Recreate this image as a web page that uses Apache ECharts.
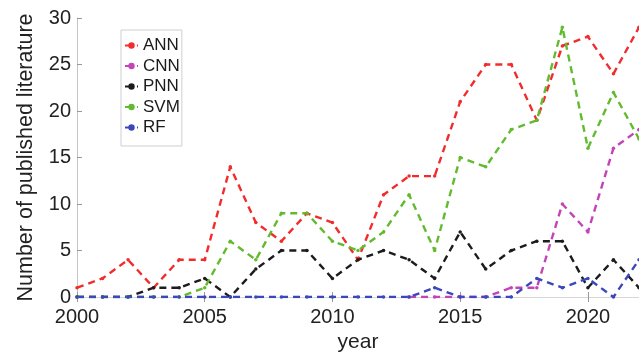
<!DOCTYPE html>
<html>
<head>
<meta charset="utf-8">
<script src="https://cdn.jsdelivr.net/npm/echarts@6/dist/echarts.min.js"></script>
<style>
  html, body { margin: 0; padding: 0; background: #ffffff; }
  #chart { width: 639px; height: 358px; }
</style>
</head>
<body>
<div id="chart"></div>
<script>
// Publications per year for each method
const years = [2000, 2001, 2002, 2003, 2004, 2005, 2006, 2007, 2008, 2009, 2010,
               2011, 2012, 2013, 2014, 2015, 2016, 2017, 2018, 2019, 2020, 2021, 2022];
const ann = [1, 2, 4, 1, 4, 4, 14, 8, 6, 9, 8, 4, 11, 13, 13, 21, 25, 25, 19, 27, 28, 24, 29];
const cnn = [null, null, null, null, null, null, null, null, null, null, null,
             null, null, 0, 0, 0, 0, 1, 1, 10, 7, 16, 18];
const pnn = [0, 0, 0, 1, 1, 2, 0, 3, 5, 5, 2, 4, 5, 4, 2, 7, 3, 5, 6, 6, 1, 4, 1];
const svm = [0, 0, 0, 0, 0, 1, 6, 4, 9, 9, 6, 5, 7, 11, 5, 15, 14, 18, 19, 29, 16, 22, 17];
const rf  = [0, 0, 0, 0, 0, 0, 0, 0, 0, 0, 0, 0, 0, 0, 1, 0, 0, 0, 2, 1, 2, 0, 4];

const xTicks = [2000, 2005, 2010, 2015, 2020];
const yTicks = [0, 5, 10, 15, 20, 25, 30];

const seriesDefs = [
  { name: 'ANN', values: ann, color: '#f22c2c' },
  { name: 'CNN', values: cnn, color: '#c444b8' },
  { name: 'PNN', values: pnn, color: '#1c1c1c' },
  { name: 'SVM', values: svm, color: '#62bb2e' },
  { name: 'RF',  values: rf,  color: '#3a48bc' }
];

const font = '"Liberation Sans", Arial, sans-serif';
const axisGray = '#c4c4c4';

const chart = echarts.init(document.getElementById('chart'), null, { renderer: 'canvas' });

chart.setOption({
  animation: false,
  backgroundColor: '#ffffff',
  textStyle: { fontFamily: font },
  grid: { left: 77, top: 18, bottom: 59, right: -4.5, containLabel: false },
  legend: {
    orient: 'vertical',
    left: 121,
    top: 30,
    padding: [7, 2, 10, 3],
    itemGap: 3.5,
    itemWidth: 13,
    itemHeight: 8,
    backgroundColor: '#ffffff',
    borderColor: '#cfcfcf',
    borderWidth: 1,
    textStyle: { fontSize: 17, color: '#1a1a1a', fontFamily: font },
    data: seriesDefs.map(s => s.name)
  },
  xAxis: [
    {
      type: 'value',
      min: 2000,
      max: 2022,
      interval: 5,
      name: 'year',
      nameLocation: 'middle',
      nameGap: 35,
      nameTextStyle: { fontSize: 21, color: '#222', fontFamily: font },
      axisLine: { show: true, onZero: false, lineStyle: { color: axisGray, width: 1 } },
      axisTick: { show: true, inside: true, length: 5, lineStyle: { color: '#999' } },
      axisLabel: {
        fontSize: 20, color: '#222', margin: 10, showMaxLabel: false,
        formatter: v => (xTicks.indexOf(v) >= 0 ? String(v) : '')
      },
      splitLine: { show: false }
    },
    {
      type: 'value',
      position: 'top',
      min: 2000,
      max: 2022,
      interval: 5,
      axisLine: { show: true, lineStyle: { color: '#d6d6d6', width: 1 } },
      axisTick: { show: true, inside: true, length: 5, lineStyle: { color: '#999' } },
      axisLabel: { show: false },
      splitLine: { show: false }
    }
  ],
  yAxis: {
    type: 'value',
    min: 0,
    max: 30,
    interval: 5,
    name: 'Number of published literature',
    nameLocation: 'middle',
    nameGap: 40,
    nameTextStyle: { fontSize: 21.5, color: '#222', fontFamily: font },
    axisLine: { show: true, lineStyle: { color: axisGray, width: 1 } },
    axisTick: { show: true, inside: true, length: 5, lineStyle: { color: '#999' } },
    axisLabel: {
      fontSize: 20, color: '#222', margin: 6,
      formatter: v => (yTicks.indexOf(v) >= 0 ? String(v) : '')
    },
    splitLine: { show: false }
  },
  series: seriesDefs.map(s => ({
    name: s.name,
    type: 'line',
    xAxisIndex: 0,
    data: years.map((y, i) => [y, s.values[i]]),
    connectNulls: false,
    symbol: 'circle',
    symbolSize: 3.5,
    showSymbol: true,
    itemStyle: { color: s.color },
    lineStyle: { color: s.color, width: 2.4, type: [7, 5] }
  }))
});
</script>
</body>
</html>
